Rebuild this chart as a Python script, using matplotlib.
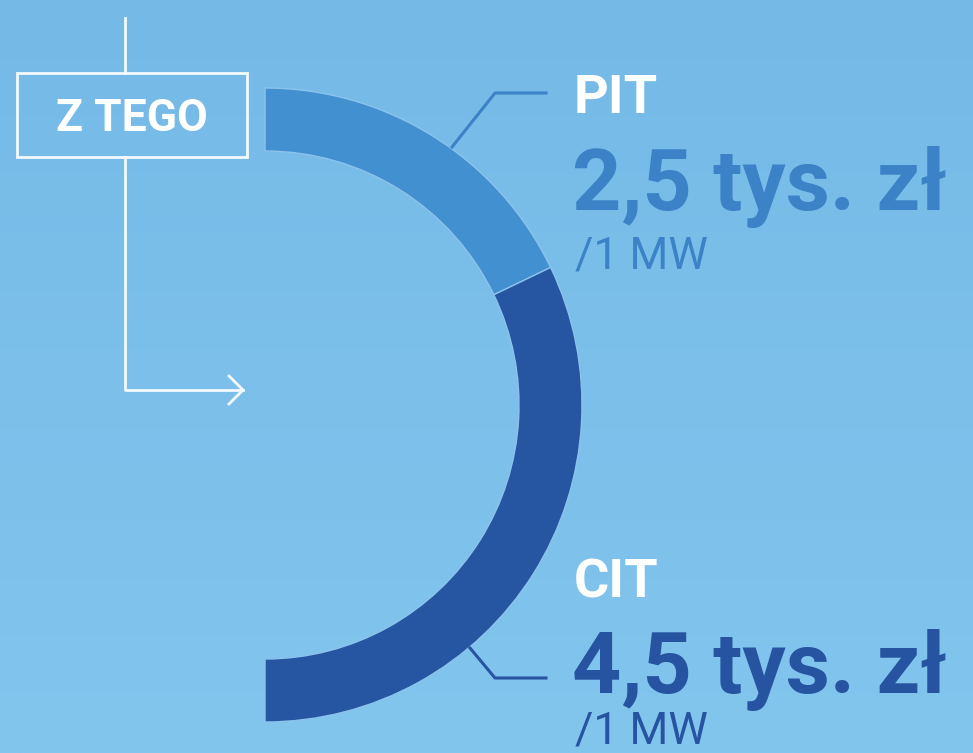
import matplotlib
matplotlib.use("Agg")
import matplotlib.pyplot as plt
import numpy as np

W, H = 973, 753

# data
labels = ["PIT", "CIT"]
values = [2.5, 4.5]
value_text = ["2,5 tys. zł", "4,5 tys. zł"]
unit_text = "/1 MW"
box_text = "Z TEGO"

bg_top = "#75B9E7"
bg_bottom = "#82C6EE"
seg_colors = ["#4290CF", "#2655A1"]
text_colors = ["#3B82C7", "#2654A0"]

NARROW = ["Roboto", "DejaVu Sans"]


def py(y):
    # pixel row (from top) -> data y
    return H - y


fig = plt.figure(figsize=(W / 100, H / 100), dpi=100)
ax = fig.add_axes([0, 0, 1, 1])

# background gradient
grad = np.linspace(0, 1, 256).reshape(-1, 1)
c0 = np.array(matplotlib.colors.to_rgb(bg_top))
c1 = np.array(matplotlib.colors.to_rgb(bg_bottom))
img = c0 + (c1 - c0) * grad[..., None]
ax.imshow(img, extent=[0, W, 0, H], origin="upper", aspect="auto", zorder=0)

# half donut: the hidden third wedge fills the left half
wedges, _ = ax.pie(values + [sum(values)],
                   colors=seg_colors + ["none"],
                   startangle=90, counterclock=False,
                   center=(265, py(405)), radius=317,
                   wedgeprops=dict(width=63, edgecolor="#8CC3EC", linewidth=1.0))
wedges[-1].set_edgecolor("none")
for w in wedges:
    w.set_zorder(2)

ax.set_xlim(0, W)
ax.set_ylim(0, H)
ax.set_aspect("auto")
ax.axis("off")

# leader lines
ax.plot([452, 495, 546], [py(147), py(93), py(93)], color=text_colors[0], lw=2.2, zorder=3)
ax.plot([470, 495, 546], [py(648), py(678), py(678)], color=text_colors[1], lw=2.2, zorder=3)

# labels
label_base = [113, 598]
value_base = [210, 693]
unit_base = [268, 743]
for i in range(2):
    ax.text(574, py(label_base[i]), labels[i], color="white", fontsize=39,
            fontweight="bold", family=NARROW, fontstretch="condensed",
            va="baseline", ha="left", zorder=4)
    ax.text(572, py(value_base[i]), value_text[i], color=text_colors[i], fontsize=62,
            fontweight="bold", family=NARROW, fontstretch="condensed",
            va="baseline", ha="left", zorder=4)
    ax.text(575, py(unit_base[i]), unit_text, color=text_colors[i], fontsize=32,
            family=NARROW, fontstretch="condensed",
            va="baseline", ha="left", zorder=4)

# "Z TEGO" box with connector arrow
white = "#F4F9FD"
ax.add_patch(plt.Rectangle((17, py(157)), 230, 84, fill=False, ec=white, lw=2, zorder=3))
ax.text(132, py(119), box_text, color="white", fontsize=32, fontweight="bold",
        family=NARROW, ha="center", va="center", zorder=4)
ax.plot([125, 125], [py(18), py(73)], color=white, lw=2, zorder=3)
ax.plot([125, 125, 243], [py(157), py(390), py(390)], color=white, lw=2, zorder=3)
ax.plot([229, 243, 229], [py(376), py(390), py(404)], color=white, lw=2, zorder=3)

fig.savefig("out.png", dpi=100)
